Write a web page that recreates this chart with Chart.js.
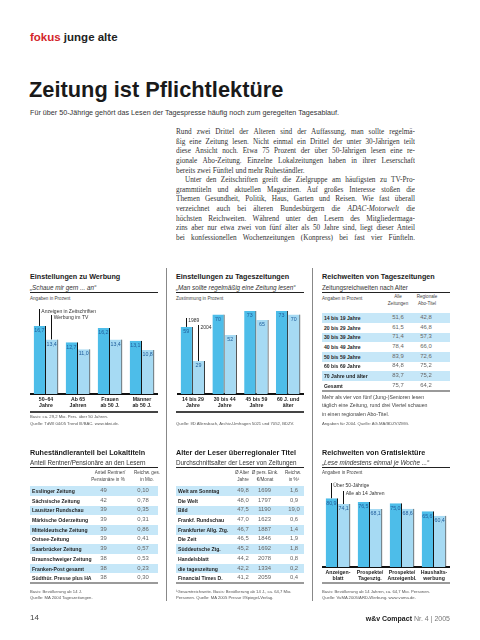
<!DOCTYPE html>
<html lang="de">
<head>
<meta charset="utf-8">
<title>Zeitung ist Pflichtlektüre</title>
<script src="https://cdn.jsdelivr.net/npm/chart.js@4.4.1/dist/chart.umd.min.js"></script>
<style>
html,body{margin:0;padding:0;background:#fff;}
body{width:480px;height:640px;position:relative;overflow:hidden;font-family:"Liberation Sans",Arial,sans-serif;color:#222;}
.t{position:absolute;white-space:nowrap;line-height:1;transform:translateY(-50%);}
.c{transform:translate(-50%,-50%);}
.h{font-weight:bold;font-size:8px;color:#1a1a1a;transform:translateY(-50%) scaleX(.9);transform-origin:0 50%;}
.sub{font-size:6.3px;color:#333;}
.unit{font-size:4.6px;color:#444;}
.src{font-size:4.2px;color:#555;}
.rule{position:absolute;height:1px;background:#222;}
.grey{position:absolute;height:2px;background:#9a9a9a;}
.vsep{position:absolute;width:1.3px;background:#888;top:268px;height:333px;}
canvas{position:absolute;}
.body{position:absolute;left:176px;top:128px;width:239px;font-family:"Liberation Serif","Times New Roman",serif;font-size:7.25px;color:#333;}
.body div{height:9.64px;line-height:9.64px;text-align:justify;text-align-last:justify;overflow:hidden;}
.body div.end{text-align-last:left;}
.body div.ind{text-indent:9px;}
.row{position:absolute;height:9.7px;}
.row span{position:absolute;top:50%;white-space:nowrap;line-height:1;}
.row .n{left:1.5px;transform:translateY(-50%) scaleX(.85);transform-origin:0 50%;font-weight:bold;font-size:6px;color:#1e1e1e;}
.row .v{transform:translate(-50%,-50%);font-size:5.9px;color:#666;}
</style>
</head>
<body>

<div class="t" style="left:30px;top:38px;font-size:11.5px;font-weight:bold;"><span style="color:#d3262b">fokus</span> junge alte</div>
<div class="t" style="left:29px;top:90px;font-size:21.8px;font-weight:bold;color:#1a1a1a;">Zeitung ist Pflichtlektüre</div>
<div class="t" style="left:30px;top:113px;font-size:7.2px;color:#333;">Für über 50-Jährige gehört das Lesen der Tagespresse häufig noch zum geregelten Tagesablauf.</div>

<div class="body">
<div>Rund zwei Drittel der Älteren sind der Auffassung, man sollte regelmä-</div>
<div>ßig eine Zeitung lesen. Nicht einmal ein Drittel der unter 30-Jährigen teilt</div>
<div>diese Ansicht noch. Etwa 75 Prozent der über 50-Jährigen lesen eine re-</div>
<div>gionale Abo-Zeitung. Einzelne Lokalzeitungen haben in ihrer Leserschaft</div>
<div class="end">bereits zwei Fünftel und mehr Ruheständler.</div>
<div class="ind">Unter den Zeitschriften greift die Zielgruppe am häufigsten zu TV-Pro-</div>
<div>grammtiteln und aktuellen Magazinen. Auf großes Interesse stoßen die</div>
<div>Themen Gesundheit, Politik, Haus, Garten und Reisen. Wie fast überall</div>
<div>verzeichnet auch bei älteren Bundesbürgern die <i>ADAC-Motorwelt</i> die</div>
<div>höchsten Reichweiten. Während unter den Lesern des Mitgliedermaga-</div>
<div>zins aber nur etwa zwei von fünf älter als 50 Jahre sind, liegt dieser Anteil</div>
<div>bei konfessionellen Wochenzeitungen (Konpress) bei fast vier Fünfteln.</div>
</div>

<div class="vsep" style="left:166px"></div>
<div class="vsep" style="left:312px"></div>

<!-- oben links -->
<div class="t h" style="left:30px;top:277px;">Einstellungen zu Werbung</div>
<div class="t sub" style="left:30px;top:288px;font-style:italic;">„Schaue mir gern ... an“</div>
<div class="rule" style="left:30px;top:292px;width:128px;"></div>
<div class="t unit" style="left:30px;top:299px;">Angaben in Prozent</div>
<canvas id="werbungChart" width="128" height="106" style="left:30px;top:306px;"></canvas>
<div class="rule" style="left:30px;top:411px;width:128px;height:1.5px;background:#444;"></div>
<div class="t src" style="left:30px;top:417px;">Basis: ca. 29,2 Mio. Pers. über 50 Jahren.</div>
<div class="t src" style="left:30px;top:424px;">Quelle: TdWI 04/05 Trend III/BAC. www.tdwi.de.</div>

<!-- oben Mitte -->
<div class="t h" style="left:176px;top:277px;">Einstellungen zu Tageszeitungen</div>
<div class="t sub" style="left:176px;top:288px;font-style:italic;">„Man sollte regelmäßig eine Zeitung lesen“</div>
<div class="rule" style="left:176px;top:292px;width:128px;"></div>
<div class="t unit" style="left:176px;top:299px;">Zustimmung in Prozent</div>
<canvas id="zeitungChart" width="127" height="106" style="left:177px;top:306px;"></canvas>
<div class="rule" style="left:176px;top:411px;width:128px;height:1.5px;background:#444;"></div>
<div class="t src" style="left:176px;top:424px;">Quelle: IfD Allensbach, Archiv-Umfragen 5021 und 7052, BDZV.</div>

<!-- oben rechts -->
<div class="t h" style="left:322px;top:277px;">Reichweiten von Tageszeitungen</div>
<div class="t sub" style="left:322px;top:288px;">Zeitungsreichweiten nach Alter</div>
<div class="rule" style="left:322px;top:292px;width:128px;"></div>
<div class="t unit" style="left:322px;top:299px;">Angaben in Prozent</div>
<div class="t unit c" style="left:398px;top:297px;">Alle</div>
<div class="t unit c" style="left:398px;top:304px;">Zeitungen</div>
<div class="t unit c" style="left:427px;top:297px;">Regionale</div>
<div class="t unit c" style="left:427px;top:304px;">Abo-Titel</div>
<div id="tabAlter"></div>
<div class="grey" style="left:322px;top:390px;width:128px;"></div>
<div class="t" style="left:322px;top:398px;font-size:5.2px;color:#444;">Mehr als vier von fünf (Jung-)Senioren lesen</div>
<div class="t" style="left:322px;top:406px;font-size:5.2px;color:#444;">täglich eine Zeitung, rund drei Viertel schauen</div>
<div class="t" style="left:322px;top:414.5px;font-size:5.2px;color:#444;">in einen regionalen Abo-Titel.</div>
<div class="t src" style="left:322px;top:424px;">Angaben für 2004. Quelle: AG.MA/BDZV/ZMG.</div>

<!-- unten links -->
<div class="t h" style="left:30px;top:453px;">Ruheständleranteil bei Lokaltiteln</div>
<div class="t sub" style="left:30px;top:462.5px;">Anteil Rentner/Pensionäre an den Lesern</div>
<div class="rule" style="left:30px;top:467px;width:128px;"></div>
<div class="t unit c" style="left:110px;top:472.5px;">Anteil Rentner/</div>
<div class="t unit c" style="left:108px;top:479.5px;">Pensionäre in %</div>
<div class="t unit c" style="left:147px;top:472.5px;">Reichw. ges.</div>
<div class="t unit c" style="left:147px;top:479.5px;">in Mio.</div>
<div id="tabLokal"></div>
<div class="grey" style="left:30px;top:582px;width:128px;"></div>
<div class="t src" style="left:30px;top:592px;">Basis: Bevölkerung ab 14 J.</div>
<div class="t src" style="left:30px;top:597.5px;">Quelle: MA 2004 Tageszeitungen.</div>

<!-- unten Mitte -->
<div class="t h" style="left:176px;top:453px;">Alter der Leser überregionaler Titel</div>
<div class="t sub" style="left:176px;top:462.5px;">Durchschnittsalter der Leser von Zeitungen</div>
<div class="rule" style="left:176px;top:467px;width:128px;"></div>
<div class="t unit c" style="left:242px;top:472.5px;">Ø Alter</div>
<div class="t unit c" style="left:243px;top:479.5px;">Jahre</div>
<div class="t unit c" style="left:265px;top:472.5px;">Ø pers. Eink.</div>
<div class="t unit c" style="left:265px;top:479.5px;">€/Monat</div>
<div class="t unit c" style="left:293px;top:472.5px;">Reichw.</div>
<div class="t unit c" style="left:294px;top:479.5px;">in %¹</div>
<div id="tabUeber"></div>
<div class="grey" style="left:176px;top:582px;width:128px;"></div>
<div class="t src" style="left:176px;top:592px;">¹Gesamtreichweite. Basis: Bevölkerung ab 14 J., ca. 64,7 Mio.</div>
<div class="t src" style="left:176px;top:597.5px;">Personen. Quelle: MA 2005 Presse I/Spiegel-Verlag.</div>

<!-- unten rechts -->
<div class="t h" style="left:322px;top:453px;">Reichweiten von Gratislektüre</div>
<div class="t sub" style="left:322px;top:462.5px;font-style:italic;">„Lese mindestens einmal je Woche ...“</div>
<div class="rule" style="left:322px;top:467px;width:128px;"></div>
<div class="t unit" style="left:322px;top:472.5px;">Angaben in Prozent</div>
<canvas id="gratisChart" width="128" height="101" style="left:322px;top:482px;"></canvas>
<div class="grey" style="left:322px;top:582px;width:128px;"></div>
<div class="t src" style="left:322px;top:592px;">Basis: Bevölkerung ab 14 Jahren, ca. 64,7 Mio. Personen.</div>
<div class="t src" style="left:322px;top:597.5px;">Quelle: VuMA 2005/ARD-Werbung. www.vuma.de.</div>

<div class="t" style="left:30px;top:618px;font-size:8px;color:#444;">14</div>
<div class="t" style="right:30px;top:618px;font-size:7px;color:#777;"><b style="color:#222">w&amp;v Compact</b> Nr. 4 | 2005</div>

<script>
// Einstellungen zu Werbung
var werbungLabels = [['50–64', 'Jahre'], ['Ab 65', 'Jahren'], ['Frauen', 'ab 50 J.'], ['Männer', 'ab 50 J.']];
var anzeigenZeitschriften = [16.7, 12.7, 16.2, 13.1];
var werbungTV = [13.4, 11.0, 13.4, 10.8];

// Einstellungen zu Tageszeitungen
var zeitungLabels = [['14 bis 29', 'Jahre'], ['30 bis 44', 'Jahre'], ['45 bis 59', 'Jahre'], ['60 J. und', 'älter']];
var zustimmung1989 = [59, 70, 73, 73];
var zustimmung2004 = [29, 52, 65, 70];

// Reichweiten von Gratislektuere
var gratisLabels = [['Anzeigen-', 'blatt'], ['Prospekte/', 'Tagesztg.'], ['Prospekte/', 'Anzeigenbl.'], ['Haushalts-', 'werbung']];
var ueber50 = [80.9, 76.5, 75.0, 65.6];
var alleAb14 = [74.1, 68.1, 68.6, 60.4];

// Reichweiten von Tageszeitungen
var altersgruppen = ['14 bis 19 Jahre', '20 bis 29 Jahre', '30 bis 39 Jahre', '40 bis 49 Jahre', '50 bis 59 Jahre', '60 bis 69 Jahre', '70 Jahre und älter', 'Gesamt'];
var alleZeitungen = [51.6, 61.5, 71.4, 78.4, 83.9, 84.8, 83.7, 75.7];
var regionaleAbo = [42.8, 46.8, 57.3, 66.0, 72.6, 75.2, 75.2, 64.2];

// Ruhestaendleranteil bei Lokaltiteln
var lokaltitel = ['Esslinger Zeitung', 'Sächsische Zeitung', 'Lausitzer Rundschau', 'Märkische Oderzeitung', 'Mitteldeutsche Zeitung', 'Ostsee-Zeitung', 'Saarbrücker Zeitung', 'Braunschweiger Zeitung', 'Franken-Post gesamt', 'Südthür. Presse plus HA'];
var rentnerAnteil = [49, 42, 39, 39, 39, 39, 39, 38, 38, 38];
var reichweiteMio = [0.10, 0.78, 0.35, 0.31, 0.86, 0.41, 0.57, 0.53, 0.23, 0.30];

// Alter der Leser ueberregionaler Titel
var ueberregional = ['Welt am Sonntag', 'Die Welt', 'Bild', 'Frankf. Rundschau', 'Frankfurter Allg. Ztg.', 'Die Zeit', 'Süddeutsche Ztg.', 'Handelsblatt', 'die tageszeitung', 'Financial Times D.'];
var durchschnittsalter = [49.8, 48.0, 47.5, 47.0, 46.7, 46.5, 45.2, 44.2, 42.2, 41.2];
var einkommen = [1699, 1797, 1190, 1623, 1887, 1846, 1692, 2078, 1334, 2059];
var reichweiteProzent = [1.6, 0.9, 19.0, 0.6, 1.4, 1.9, 1.8, 0.8, 0.2, 0.4];

var DARK = '#4dbde9';
var LIGHT = '#a6daf3';
var ROW = '#c6e7f8';

function de(v, n){
    return v.toFixed(n).replace('.', ',');
}

Chart.defaults.font.family = '"Liberation Sans", Arial, sans-serif';

// Werte in den Balken und Hinweislinien
var barText = {
    id: 'barText',
    afterDatasetsDraw: function(chart, args, opts){
        var c = chart.ctx;
        c.save();
        c.font = '5.3px "Liberation Sans", Arial';
        c.fillStyle = '#22609e';
        c.textAlign = 'center';
        chart.data.datasets.forEach(function(ds, i){
            chart.getDatasetMeta(i).data.forEach(function(bar, j){
                c.fillText(opts.fmt(ds.data[j]), bar.x - 0.5, bar.y + 6.3);
            });
        });
        c.font = '5px "Liberation Sans", Arial';
        c.textAlign = 'left';
        opts.notes.forEach(function(n){
            var bar = chart.getDatasetMeta(n.ds).data[0];
            c.strokeStyle = '#111';
            c.lineWidth = 1;
            c.beginPath();
            c.moveTo(Math.round(bar.x) - 0.5, bar.y);
            c.lineTo(Math.round(bar.x) - 0.5, n.top);
            c.stroke();
            c.fillStyle = '#333';
            c.fillText(n.text, bar.x + 1.5, n.top + 4);
        });
        c.restore();
    }
};

function makeBars(id, labels, a, b, max, axisH, fmt, notes){
    var ctx = document.getElementById(id).getContext('2d');
    var style = {
        borderColor: '#151515',
        borderWidth: {top: 0, right: 1, bottom: 0, left: 0},
        borderSkipped: 'bottom',
        categoryPercentage: 0.77,
        barPercentage: 1
    };
    return new Chart(ctx, {
        type: 'bar',
        data: {
            labels: labels,
            datasets: [
                Object.assign({data: a, backgroundColor: DARK}, style),
                Object.assign({data: b, backgroundColor: LIGHT}, style)
            ]
        },
        options: {
            responsive: false,
            animation: false,
            devicePixelRatio: 1,
            layout: {padding: 0},
            plugins: {
                legend: {display: false},
                tooltip: {enabled: false},
                barText: {fmt: fmt, notes: notes}
            },
            scales: {
                y: {display: false, min: 0, max: max},
                x: {
                    grid: {display: false, drawTicks: false},
                    border: {display: true, color: '#111', width: 2},
                    ticks: {
                        color: '#222',
                        padding: 2,
                        maxRotation: 0,
                        autoSkip: false,
                        font: {size: 5.2, weight: 'bold', lineHeight: 1.2}
                    },
                    afterFit: function(scale){ scale.height = axisH; }
                }
            }
        },
        plugins: [barText]
    });
}

makeBars('werbungChart', werbungLabels, anzeigenZeitschriften, werbungTV, 21.6, 18,
    function(v){ return de(v, 1); },
    [{ds: 0, top: 3, text: 'Anzeigen in Zeitschriften'}, {ds: 1, top: 9, text: 'Werbung im TV'}]);

makeBars('zeitungChart', zeitungLabels, zustimmung1989, zustimmung2004, 77.4, 18,
    function(v){ return String(v); },
    [{ds: 0, top: 12, text: '1989'}, {ds: 1, top: 19, text: '2004'}]);

makeBars('gratisChart', gratisLabels, ueber50, alleAb14, 100, 16,
    function(v){ return de(v, 1); },
    [{ds: 0, top: 1, text: 'Über 50-Jährige'}, {ds: 1, top: 9, text: 'Alle ab 14 Jahren'}]);

// Tabellen
function makeTable(id, x0, top0, names, cols, centers){
    var host = document.getElementById(id);
    var html = '';
    names.forEach(function(name, i){
        var top = top0 + i * 9.7 - 4.85;
        html += '<div class="row" style="left:' + x0 + 'px;top:' + top + 'px;width:128px;' +
            (i % 2 === 0 ? 'background:' + ROW + ';' : '') + '">';
        html += '<span class="n">' + name + '</span>';
        cols.forEach(function(col, k){
            html += '<span class="v" style="left:' + (centers[k] - x0) + 'px">' + col[i] + '</span>';
        });
        html += '</div>';
    });
    host.innerHTML = html;
}

makeTable('tabAlter', 322, 318, altersgruppen,
    [alleZeitungen.map(function(v){ return de(v, 1); }), regionaleAbo.map(function(v){ return de(v, 1); })],
    [398, 426]);

makeTable('tabLokal', 30, 491, lokaltitel,
    [rentnerAnteil.map(String), reichweiteMio.map(function(v){ return de(v, 2); })],
    [103.5, 143]);

makeTable('tabUeber', 176, 491, ueberregional,
    [durchschnittsalter.map(function(v){ return de(v, 1); }), einkommen.map(String), reichweiteProzent.map(function(v){ return de(v, 1); })],
    [243, 264.5, 294]);
</script>
</body>
</html>
